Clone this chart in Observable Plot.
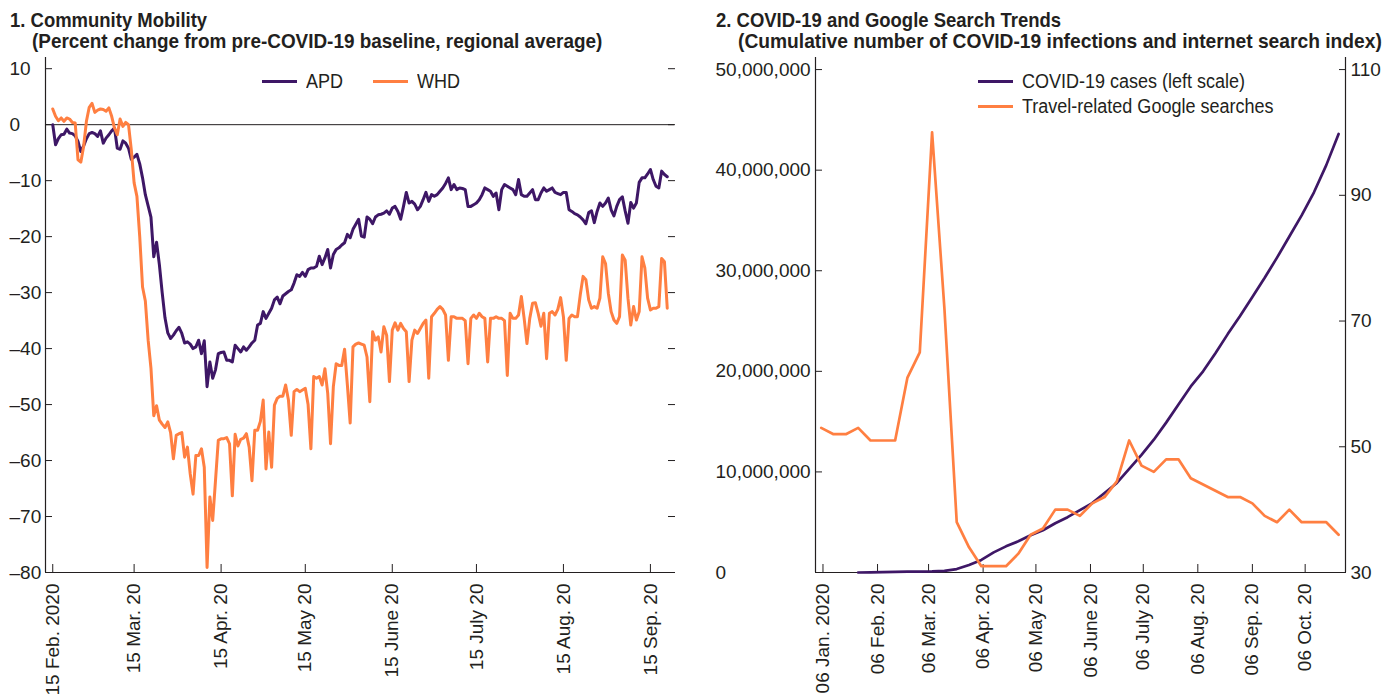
<!DOCTYPE html>
<html>
<head>
<meta charset="utf-8">
<script src="https://cdn.jsdelivr.net/npm/d3@7"></script>
<script src="https://cdn.jsdelivr.net/npm/@observablehq/plot@0.6"></script>
<style>
  body { margin: 0; background: #fff; }
  #wrap { position: relative; width: 1395px; height: 694px; overflow: hidden; color: #231f20; }
  .panel { position: absolute; top: 0; }
  .title { position: absolute; font-family: "Liberation Sans", Arial, sans-serif; font-weight: bold; font-size: 21px; line-height: 22px; white-space: nowrap; transform: scaleX(0.89); transform-origin: 0 0; }
  .leg { position: absolute; font-family: "Liberation Sans", Arial, sans-serif; font-size: 20px; line-height: 24px; white-space: nowrap; display: flex; align-items: center; }
  .sw { display: inline-block; width: 35px; height: 3px; margin-right: 9px; }
  .lt { display: inline-block; transform: scaleX(0.9); transform-origin: 0 50%; }
</style>
</head>
<body>
<div id="wrap"></div>
<script>
// ---------- Panel 1: community mobility (daily, from 15 Feb 2020) ----------
const mobilityStart = [2020, 1, 15];
const apd = [
  0,-3.6,-2.5,-1.8,-1.7,-0.8,-1.5,-1.6,-2.0,-3.0,
  -4.8,-3.8,-2.5,-1.6,-1.4,-1.6,-2.1,-1.1,-3.3,-2.4,
  -1.8,-1.1,-0.6,-4.2,-4.4,-2.9,-3.3,-4.2,-6.2,-5.8,
  -5.3,-7.0,-9.5,-12.5,-14.5,-16.5,-23.6,-21,-25,-30,
  -34.5,-37.2,-38.2,-37.6,-36.8,-36.2,-37.3,-39,-38.8,-39.2,
  -40,-39.7,-38.5,-40.9,-38.6,-46.8,-42.4,-45.3,-43.8,-40.9,
  -40.7,-40.6,-42.1,-42.1,-42.4,-39.4,-40,-40.6,-39.7,-40.3,
  -39.7,-39,-38.5,-35.8,-35.5,-33.4,-34.6,-33.7,-32.8,-31.3,
  -30.8,-32,-30.6,-30.2,-29.8,-29.5,-28.3,-26.8,-27.1,-26.4,
  -27.1,-25.9,-25.6,-25.6,-25.3,-23.5,-25,-23.8,-22.3,-25.6,
  -23.2,-22.3,-22,-21.5,-21.1,-19.6,-20.2,-18.7,-17.8,-16.9,
  -19.9,-20.1,-16.5,-16.9,-17.7,-16.5,-16.1,-16.0,-15.8,-15.4,
  -16,-14.9,-14.6,-15.5,-16.9,-14.6,-12.1,-14,-13.7,-14.2,
  -15.2,-14.6,-13.4,-12.1,-13.7,-12.5,-12.8,-12.5,-11.9,-11.3,
  -10.5,-9.5,-11.6,-10.7,-11.6,-11.3,-11.4,-11.6,-14.6,-14.6,
  -14.3,-14,-13.4,-12.5,-11.3,-11.6,-11.9,-12.8,-12.2,-15.2,
  -11.6,-10.7,-11,-11.3,-11.6,-12.5,-9.8,-12.5,-12.8,-12.8,
  -12.2,-11.6,-13.4,-13.4,-12.2,-11.3,-11.9,-11.6,-11.3,-12.1,
  -12.3,-12.5,-12.1,-12.1,-15.2,-15.5,-15.9,-16.1,-16.5,-17,
  -17.7,-15.7,-15.4,-17.5,-15.5,-14,-14.6,-14,-13.1,-15.2,
  -16.3,-14.6,-13.4,-12.9,-15.4,-17.6,-13.9,-14.9,-14,-10.3,
  -9.5,-9.5,-8.8,-8.0,-9.8,-11,-11.3,-8.3,-8.9,-9.3
];
const whd = [
  2.8,1.5,0.7,1.2,0.6,1.2,1.0,0.4,0.3,-6.3,
  -6.7,-3.9,0.6,3.1,3.8,2.2,2.6,2.8,2.7,2.4,
  3.0,1.5,-0.6,-1.8,1.0,-0.3,0.4,0.0,-4.5,-10.4,
  -12.8,-20,-29,-31.5,-38.5,-43.5,-52,-50.2,-52.8,-53.5,
  -54.1,-53.1,-55,-59.7,-55.5,-55.2,-55,-59.4,-57.6,-62.4,
  -66,-59.1,-59.1,-57.9,-61.2,-79.1,-66.5,-70.7,-63.6,-56.4,
  -56.1,-56.1,-55.9,-57,-66.3,-55.3,-57.4,-56.2,-56,-55.2,
  -57.6,-63.6,-54.6,-54.6,-53,-49.2,-61.5,-54.9,-61.2,-50.1,
  -48.9,-48.5,-48.5,-46.5,-49.2,-55.5,-47.7,-47.3,-47.7,-47.4,
  -47.1,-50,-57.9,-45,-45.3,-45,-46.5,-43.6,-48,-57,
  -46.8,-42.7,-43,-43,-40.1,-46.5,-53.3,-39.7,-39.2,-39,
  -39.2,-39.4,-41.5,-49.5,-37,-38.5,-37.9,-40.6,-36.1,-37.6,
  -45.9,-36.7,-35.4,-36.7,-35.5,-36.4,-37,-45.9,-38.5,-36.7,
  -37.3,-36.4,-35.5,-34.9,-45.3,-34.3,-33.7,-33,-32.5,-33,
  -34,-42.1,-34.3,-34.3,-34.6,-34.6,-34.6,-35,-42.7,-34.6,
  -34,-34.6,-33.7,-34.3,-34.6,-42.4,-34.6,-34.6,-34.3,-34.6,
  -34.6,-35,-44.8,-33.7,-34.6,-34.6,-34,-30.7,-34.6,-39.1,
  -34.6,-31.9,-31.8,-33.7,-36,-33.7,-41.8,-33.7,-33.4,-34,
  -33,-30.9,-34.3,-42.1,-34.6,-34,-34.3,-34.3,-30.4,-27.1,
  -27.7,-31.3,-32.8,-32.5,-32.8,-31,-23.6,-24.8,-30.1,-33.4,
  -34.9,-35.5,-34.3,-23.3,-24.2,-31,-35.8,-32.5,-34.9,-33.4,
  -23.6,-25.6,-31,-33.1,-32.8,-32.8,-32.5,-23.9,-24.5,-32.8
];
const mobilitySeries = ["APD", "WHD"];
const mobYTicks = [10, 0, -10, -20, -30, -40, -50, -60, -70, -80];
const mobTickDates = ["2020-02-15","2020-03-15","2020-04-15","2020-05-15","2020-06-15","2020-07-15","2020-08-15","2020-09-15"];
const mobTickLabels = ["15 Feb. 2020","15 Mar. 20","15 Apr. 20","15 May 20","15 June 20","15 July 20","15 Aug. 20","15 Sep. 20"];

// ---------- Panel 2: COVID-19 cases and search index (weekly) ----------
const searchStart = [2020, 0, 5];
const searchIndex = [53,52,52,53,51,51,51,61,65,100,72,38,34,31,31,31,33,36,37,40,40,39,41,42,44.5,51,47,46,48,48,45,44,43,42,42,41,39,38,40,38,38,38,36];
const casesStart = [2020, 0, 26];
const casesMillions = [0.002,0.017,0.04,0.07,0.08,0.09,0.11,0.17,0.34,0.75,1.25,2.0,2.6,3.1,3.7,4.2,4.9,5.5,6.2,6.9,7.9,8.9,10.3,11.7,13.2,14.9,16.7,18.5,20.0,21.8,23.7,25.5,27.4,29.3,31.3,33.4,35.5,37.8,40.5,43.6];
const covSeries = ["COVID-19 cases (left scale)", "Travel-related Google searches"];
const casesYTicks = [0, 10000000, 20000000, 30000000, 40000000, 50000000];
const searchYTicks = [30, 50, 70, 90, 110];
const covTickDates = ["2020-01-06","2020-02-06","2020-03-06","2020-04-06","2020-05-06","2020-06-06","2020-07-06","2020-08-06","2020-09-06","2020-10-06"];
const covTickLabels = ["06 Jan. 2020","06 Feb. 20","06 Mar. 20","06 Apr. 20","06 May 20","06 June 20","06 July 20","06 Aug. 20","06 Sep. 20","06 Oct. 20"];

const PURPLE = "#3e1766";
const ORANGE = "#ff7f41";
const INK = "#231f20";
const tickFont = "Liberation Sans, Arial, sans-serif";

const dayAfter = (start, n) => new Date(Date.UTC(start[0], start[1], start[2] + n));
const parse = s => new Date(s + "T00:00:00Z");

// ---------- build panel 1 ----------
const mobData = [
  ...apd.map((v, i) => ({date: dayAfter(mobilityStart, i), value: v, series: mobilitySeries[0]})),
  ...whd.map((v, i) => ({date: dayAfter(mobilityStart, i), value: v, series: mobilitySeries[1]}))
];
const mobX = [new Date(Date.UTC(2020, 1, 12, 10)), new Date(Date.UTC(2020, 8, 23, 14))];
const mobY = [-80, 12];
const mobTicks = mobTickDates.map(parse);

const p1 = Plot.plot({
  width: 697, height: 694,
  marginLeft: 45, marginRight: 23, marginTop: 57, marginBottom: 122,
  style: {fontFamily: tickFont, fontSize: "19px", color: INK, background: "transparent", overflow: "visible"},
  x: {type: "utc", domain: mobX},
  y: {domain: mobY},
  color: {domain: mobilitySeries, range: [PURPLE, ORANGE]},
  marks: [
    Plot.ruleY([0], {stroke: INK, strokeWidth: 1}),
    Plot.ruleX([mobX[0]], {stroke: INK, strokeWidth: 1.2}),
    Plot.ruleY([mobY[0]], {stroke: INK, strokeWidth: 1.2}),
    Plot.axisY({anchor: "left", ticks: mobYTicks, tickSize: 7, dx: 7, fill: "none", label: null, stroke: INK}),
    Plot.axisY({anchor: "right", ticks: mobYTicks, tickSize: 7, dx: -7, fill: "none", label: null, stroke: INK}),
    Plot.axisY({anchor: "left", ticks: mobYTicks, tickSize: 0, tickPadding: 0, dx: -36, textAnchor: "start", label: null,
      tickFormat: d => d < 0 ? "\u2013" + Math.abs(d) : String(d)}),
    Plot.axisX({anchor: "bottom", ticks: mobTicks, tickSize: 8, dy: -8, fill: "none", label: null, stroke: INK}),
    Plot.axisX({anchor: "bottom", ticks: mobTicks, tickSize: 0, tickPadding: 11, tickRotate: -90, label: null,
      tickFormat: (d, i) => mobTickLabels[i]}),
    Plot.line(mobData, {x: "date", y: "value", z: "series", stroke: "series", strokeWidth: 3, strokeLinejoin: "round"})
  ]
});

// ---------- build panel 2 ----------
const casesScale = casesYTicks[casesYTicks.length - 1] / (searchYTicks[searchYTicks.length - 1] - searchYTicks[0]);
const toLeft = v => (v - searchYTicks[0]) * casesScale;
const covData = [
  ...casesMillions.map((v, i) => ({date: dayAfter(casesStart, 7 * i), value: v * 1e6, series: covSeries[0]})),
  ...searchIndex.map((v, i) => ({date: dayAfter(searchStart, 7 * i), value: toLeft(v), series: covSeries[1]}))
];
const covX = [new Date(Date.UTC(2020, 0, 1, 18)), new Date(Date.UTC(2020, 9, 28, 22))];
const covY = [0, 51.2e6];
const covTicks = covTickDates.map(parse);

const p2 = Plot.plot({
  width: 698, height: 694,
  marginLeft: 118, marginRight: 50, marginTop: 57, marginBottom: 122,
  style: {fontFamily: tickFont, fontSize: "19px", color: INK, background: "transparent", overflow: "visible"},
  x: {type: "utc", domain: covX},
  y: {domain: covY},
  color: {domain: covSeries, range: [PURPLE, ORANGE]},
  marks: [
    Plot.ruleX([covX[0]], {stroke: INK, strokeWidth: 1.2}),
    Plot.ruleX([covX[1]], {stroke: INK, strokeWidth: 1.2}),
    Plot.ruleY([covY[0]], {stroke: INK, strokeWidth: 1.2}),
    Plot.axisY({anchor: "left", ticks: casesYTicks, tickSize: 7, dx: 7, fill: "none", label: null, stroke: INK}),
    Plot.axisY({anchor: "left", ticks: casesYTicks, tickSize: 0, tickPadding: 0, dx: -100, textAnchor: "start", label: null,
      tickFormat: d3.format(",")}),
    Plot.axisY({anchor: "right", ticks: searchYTicks.map(toLeft), tickSize: 7, dx: -7, fill: "none", label: null, stroke: INK}),
    Plot.axisY({anchor: "right", ticks: searchYTicks.map(toLeft), tickSize: 0, tickPadding: 5, textAnchor: "start", label: null,
      tickFormat: d => String(Math.round(d / casesScale + searchYTicks[0]))}),
    Plot.axisX({anchor: "bottom", ticks: covTicks, tickSize: 8, dy: -8, fill: "none", label: null, stroke: INK}),
    Plot.axisX({anchor: "bottom", ticks: covTicks, tickSize: 0, tickPadding: 11, tickRotate: -90, label: null,
      tickFormat: (d, i) => covTickLabels[i]}),
    Plot.line(covData, {x: "date", y: "value", z: "series", stroke: "series", strokeWidth: 2.7, strokeLinejoin: "round"})
  ]
});

// ---------- assemble ----------
const wrap = document.getElementById("wrap");
function place(el, left) { el.classList.add("panel"); el.style.left = left + "px"; wrap.appendChild(el); }
place(p1, 0);
place(p2, 697);

function addDiv(cls, left, top, html, sx) {
  const d = document.createElement("div");
  d.className = cls; d.style.left = left + "px"; d.style.top = top + "px"; d.innerHTML = html;
  if (sx) d.style.transform = `scaleX(${sx})`;
  wrap.appendChild(d); return d;
}
addDiv("title", 10, 9, "1. Community Mobility", 0.88);
addDiv("title", 32, 30, "(Percent change from pre-COVID-19 baseline, regional average)", 0.9);
addDiv("title", 716, 9, "2. COVID-19 and Google Search Trends", 0.88);
addDiv("title", 738, 30, "(Cumulative number of COVID-19 infections and internet search index)", 0.915);

function legendItem(left, top, label, color) {
  addDiv("leg", left, top, `<span class="sw" style="background:${color}"></span><span class="lt">${label}</span>`);
}
legendItem(262, 69, mobilitySeries[0], PURPLE);
legendItem(373, 69, mobilitySeries[1], ORANGE);
legendItem(978, 69, covSeries[0], PURPLE);
legendItem(978, 94, covSeries[1], ORANGE);
</script>
</body>
</html>
